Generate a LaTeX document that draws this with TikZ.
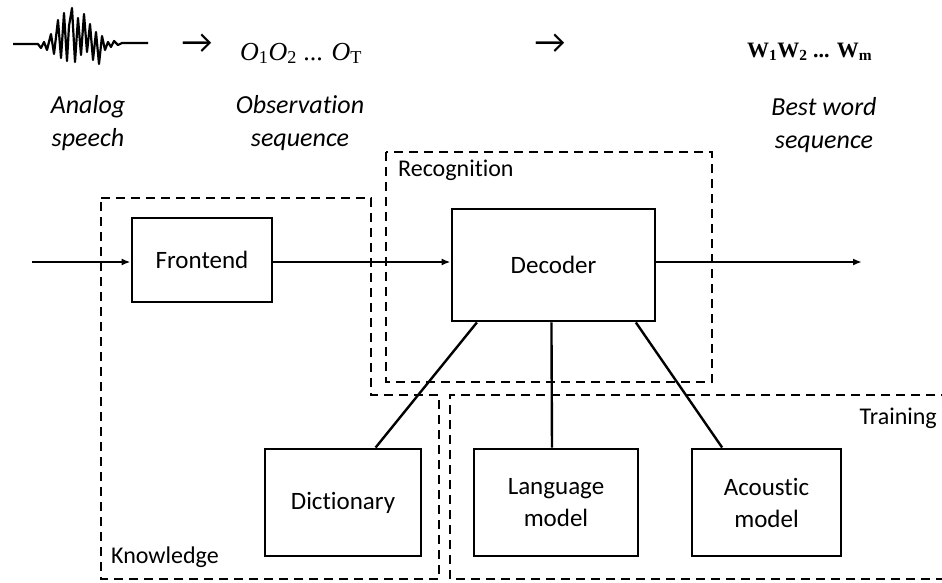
\documentclass[tikz,border=0pt]{standalone}
\usepackage{fontspec}
\setmainfont{Carlito}[Ligatures={NoCommon}]
\newfontfamily\serifT{Liberation Serif}
\newfontfamily\arrowfont{Carlito}
\usetikzlibrary{arrows.meta,calc}
\begin{document}
\begin{tikzpicture}[x=1pt,y=-1pt,
  blk/.style={draw,line width=2.9pt,inner sep=0pt,align=center,
    font=\fontsize{25}{32}\selectfont},
  region/.style={line width=2.6pt,dash pattern=on 9pt off 6pt},
  conn/.style={line width=2.4pt},
  flow/.style={line width=2.6pt,-{Latex[length=9pt,width=7pt]}},
  lbl/.style={inner sep=0pt,font=\fontsize{24}{30}\selectfont},
  ital/.style={inner sep=0pt,align=center,font=\fontsize{26}{33}\selectfont\itshape},
  sym/.style={inner sep=0pt,font=\arrowfont\fontsize{34}{36}\selectfont}]
\useasboundingbox[fill=white] (0,0) rectangle (942,582);

% regions
\draw[region] (386,152) rectangle (712,382);
\draw[region] (101,198) -- (371,198) -- (371,395) -- (439,395) -- (439,579) -- (101,579) -- cycle;
\draw[region] (950,395) -- (450,395) -- (450,579) -- (950,579);

% region labels
\node[lbl,anchor=west] (lrec) at (398,170) {Recognition};
\node[lbl,anchor=east] (ltrain) at (937,418) {Training};
\node[lbl,anchor=west] (lknow) at (111,557) {Knowledge};

% boxes
\node[blk,minimum width=140pt,minimum height=84pt] (fe) at (202,260) {Frontend};
\node[blk,minimum width=203pt,minimum height=112pt] (dec) at (553.5,265) {Decoder};
\node[blk,minimum width=156pt,minimum height=107pt] (dict) at (343,502.5) {Dictionary};
\node[blk,minimum width=164pt,minimum height=107pt] (lang) at (556,502.5) {Language\\model};
\node[blk,minimum width=149pt,minimum height=107pt] (ac) at (766.5,502.5) {Acoustic\\model};

% flow
\coordinate (in) at (32,262);
\coordinate (out) at (862,262);
\draw[flow] (in) -- (in -| fe.west);
\draw[flow] (fe.east |- in) -- (in -| dec.west);
\draw[flow] (in -| dec.east) -- (out);

% connectors
\draw[conn] ($(dec.south west)!0.128!(dec.south east)$) -- ($(dict.north west)!0.705!(dict.north east)$);
\draw[conn] ($(dec.south west)!0.49!(dec.south east)$) -- ($(lang.north west)!0.476!(lang.north east)$);
\draw[conn] ($(dec.south west)!0.90!(dec.south east)$) -- ($(ac.north west)!0.208!(ac.north east)$);

% top row
\draw[line width=2.2pt,line join=round] (13,44) -- (38,44) -- (41,48) -- (44,42) -- (47,50) -- (51,34) -- (54,54) -- (58,20) -- (61,58) -- (64,13) -- (67,61) -- (69,26) -- (72,8) -- (75,62) -- (78,18) -- (81,55) -- (84,14) -- (87,52) -- (90,24) -- (93,60) -- (96,32) -- (99,64) -- (102,36) -- (105,50) -- (108,42) -- (111,47) -- (114,41) -- (118,45) -- (122,43) -- (148,43);
\node[sym] (ar1) at (197,44) {→};
\node[sym] (ar2) at (550,44) {→};
\node[inner sep=0pt,anchor=base west,font=\serifT\fontsize{26}{30}\selectfont] (obs) at (240,60)
  {\textit{O}\textsubscript{1}\textit{O}\textsubscript{2} ... \textit{O}\textsubscript{T}};
\node[inner sep=0pt,anchor=base west,font=\serifT\bfseries\fontsize{22}{26}\selectfont] (wrd) at (747,57)
  {W\textsubscript{1}W\textsubscript{2} ... W\textsubscript{m}};

\node[ital] (la) at (88,123) {Analog\\speech};
\node[ital] (lo) at (300,123) {Observation\\sequence};
\node[ital] (lb) at (824,125) {Best word\\sequence};
\end{tikzpicture}
\end{document}
